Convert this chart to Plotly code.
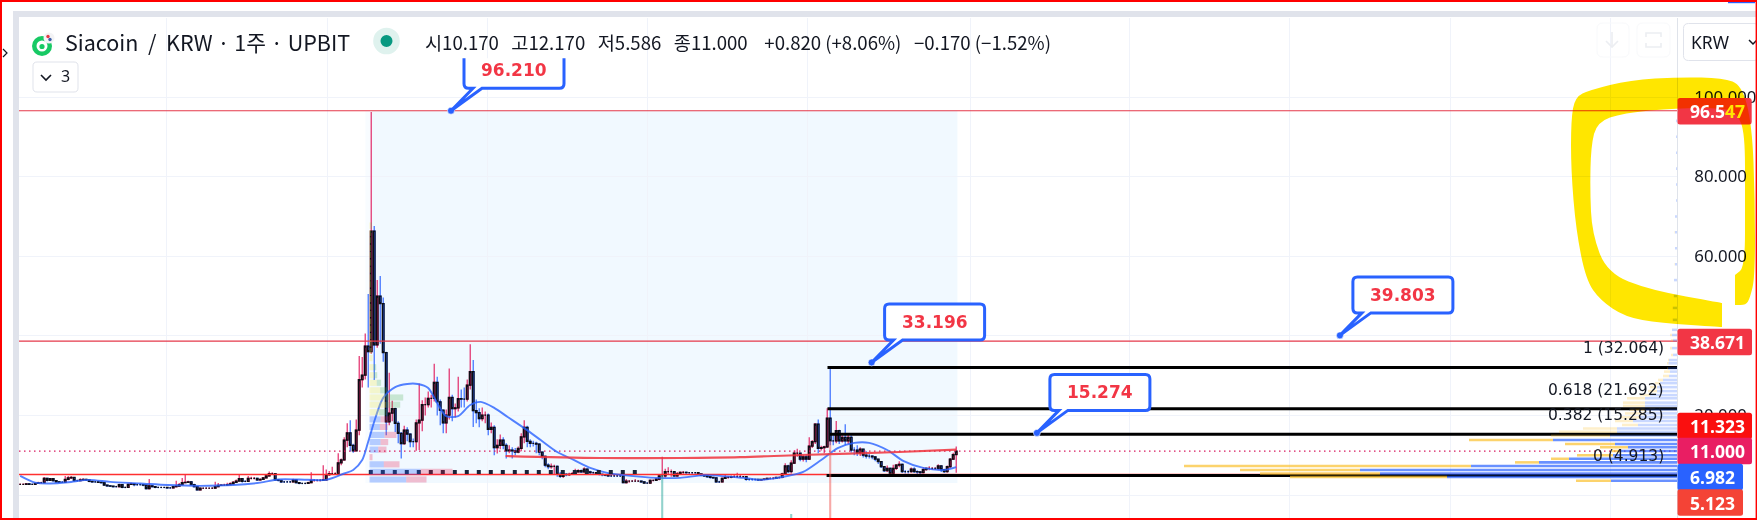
import plotly.graph_objects as go

CLOSE = [
2.7,2.7,2.8,2.7,2.7,2.9,3.1,3.1,4.2,3.7,
4.1,3.6,3.3,3.2,3.2,3.9,4.3,4.4,3.6,3.6,
3.8,3.9,3.8,3.4,3.3,3.3,3.2,3.1,2.5,2.3,
2.2,2.1,2.1,2.6,1.9,1.9,2.7,2.8,2.6,2.6,
2.6,2.5,1.6,2.3,2.1,1.9,1.9,1.9,1.9,1.8,
1.8,2.1,2.2,2.6,3.1,3.2,3.3,2.6,2.1,1.3,
1.7,1.7,1.7,1.7,1.7,2.1,2.4,2.5,2.5,2.6,
2.8,3.2,3.5,4.1,3.4,3.4,4.2,4.2,4.2,3.8,
3.9,4.3,4.8,5.4,5.4,3.8,3.7,3.3,3.3,3.3,
3.3,3.8,3.1,2.9,2.9,2.9,3.1,3.7,3.7,3.7,
3.7,3.8,5.1,5.4,5.4,5.4,8.1,8.8,13.8,15.6,
12.5,11.1,16.3,29.0,30.1,37.4,36.0,66.3,37.7,50.0,
48.1,35.8,18.4,20.6,21.7,18.0,15.5,12.9,16.3,15.3,
13.4,13.4,18.1,18.8,22.7,22.7,24.3,24.3,28.3,23.4,
21.3,18.1,20.1,24.5,21.7,21.9,24.2,24.1,24.1,27.6,
31.0,21.2,20.7,19.2,20.1,20.1,16.5,17.0,11.9,12.5,
13.8,12.5,11.1,11.3,11.1,10.8,11.7,14.6,17.0,13.5,
13.0,13.0,12.8,10.8,9.7,7.5,7.1,7.2,7.2,5.2,
4.7,5.2,5.1,5.2,5.4,5.8,6.1,5.8,6.5,5.8,
5.6,5.6,5.4,5.2,5.1,5.0,4.8,4.8,4.8,4.8,
4.8,3.1,3.5,3.5,3.5,3.5,3.5,3.3,3.0,3.0,
3.7,3.7,4.0,4.8,4.8,5.85,5.85,5.85,4.8,5.3,
5.7,5.7,5.6,5.6,5.6,5.6,5.3,5.0,4.8,4.6,
4.4,4.3,3.3,3.3,4.2,4.4,4.4,4.6,4.6,4.6,
4.6,4.6,3.9,3.9,3.9,3.9,3.8,3.9,4.0,4.2,
4.2,4.2,4.4,4.4,5.3,7.3,5.9,8.0,10.5,10.5,
9.0,9.6,9.0,12.3,13.4,17.8,11.7,11.9,12.1,19.3,
13.6,13.6,16.2,13.6,14.5,13.6,14.5,11.3,11.3,10.6,
11.5,10.0,9.8,9.8,9.6,9.0,8.4,7.1,6.1,6.7,
5.4,6.7,7.5,7.7,5.9,5.9,5.9,6.5,5.9,5.8,
5.6,6.4,6.7,6.7,6.7,6.7,7.3,6.4,5.9,7.1,
9.0,10.17,11.0]
HIGH = [
2.9,2.9,3.0,3.0,2.9,3.1,3.3,3.3,4.5,4.3,
4.3,4.2,3.7,3.4,3.5,4.8,4.8,4.8,4.5,3.9,
4.2,4.2,4.1,3.9,3.6,3.5,3.6,3.4,3.2,2.6,
2.4,2.3,2.3,2.8,2.7,2.1,2.9,3.1,3.0,2.8,
2.9,2.7,2.6,4.0,2.5,2.2,2.1,2.0,2.0,2.0,
2.0,2.3,3.6,3.0,4.3,5.2,3.6,3.4,2.8,2.2,
1.9,1.8,1.9,1.8,1.9,3.3,3.0,2.7,2.8,3.1,
3.2,3.5,3.9,5.2,4.2,3.7,4.8,4.6,4.5,4.3,
4.2,4.5,5.0,5.9,5.7,5.5,4.0,3.8,3.5,3.5,
3.5,4.1,3.9,3.2,3.1,3.1,3.3,5.7,4.0,3.9,
4.0,7.5,6.4,6.0,7.1,5.7,10.5,9.2,14.5,18.0,
18.8,12.9,19.0,34.9,34.7,40.6,50.5,96.21,67.6,54.0,
55.0,49.6,36.0,30.7,23.7,21.9,18.5,15.8,17.4,17.0,
15.5,14.2,19.0,28.0,23.8,24.5,26.0,25.2,33.0,29.7,
24.0,21.5,21.5,31.8,25.2,23.0,29.7,26.5,27.0,29.0,
37.9,33.9,24.0,21.8,22.0,21.0,20.5,18.2,17.5,14.0,
15.2,14.5,13.0,12.5,12.0,11.8,12.2,15.5,18.8,17.4,
14.0,13.6,13.4,13.0,10.9,9.9,8.0,7.9,7.6,7.4,
5.8,5.6,5.5,5.6,5.8,6.6,6.5,6.4,7.0,6.7,
6.1,5.9,5.8,5.5,5.4,5.3,5.1,5.0,5.0,5.0,
5.0,5.0,4.0,3.7,3.7,4.0,3.7,3.6,3.4,3.2,
3.9,3.9,4.2,5.0,9.6,6.6,7.0,6.4,6.0,5.8,
5.9,6.0,5.9,5.8,5.8,5.7,5.7,5.4,5.1,4.9,
4.7,4.5,4.4,3.6,4.4,5.2,4.8,4.9,5.0,5.6,
5.0,4.8,4.7,4.1,4.1,4.0,4.0,4.0,4.2,4.3,
4.4,4.5,4.6,4.6,5.6,8.0,7.6,8.7,11.2,11.6,
10.6,10.0,10.2,14.5,13.8,18.0,19.0,12.4,12.4,21.8,
32.2,15.0,18.6,16.4,15.0,17.8,15.5,15.0,12.0,12.5,
12.0,11.6,11.0,10.3,10.0,9.8,9.1,8.5,7.2,7.4,
6.9,7.6,7.8,8.5,7.9,6.3,6.2,6.9,7.0,6.2,
6.0,7.0,6.9,7.2,7.0,7.0,7.7,7.5,6.6,7.4,
9.3,10.6,12.17]
LOW = [
2.5,2.5,2.6,2.6,2.5,2.6,2.8,2.9,3.0,3.4,
3.5,3.3,3.1,3.0,3.0,3.1,3.7,4.0,3.3,3.4,
3.5,3.6,3.5,3.2,3.1,3.1,3.0,2.9,2.3,2.1,
2.0,1.9,1.9,1.9,1.7,1.7,1.8,2.5,2.2,2.3,
2.4,2.2,1.4,1.4,1.9,1.7,1.7,1.7,1.7,1.6,
1.6,1.7,1.9,2.1,2.5,3.0,3.0,2.4,1.9,1.1,
1.2,1.5,1.5,1.5,1.5,1.6,2.0,2.3,2.3,2.4,
2.5,2.7,3.1,3.4,3.1,3.2,3.3,3.9,3.9,3.5,
3.6,3.8,4.2,4.6,5.0,3.6,3.4,3.0,3.0,3.1,
3.1,3.2,2.9,2.7,2.7,2.7,2.8,3.0,3.3,3.4,
3.4,3.6,3.6,4.8,5.0,5.0,5.2,7.5,8.6,12.0,
10.9,10.6,11.0,15.0,27.0,29.0,27.0,35.5,28.9,37.0,
38.0,33.5,15.0,17.5,18.5,15.8,13.0,9.2,12.6,13.5,
12.0,12.0,11.1,11.3,16.0,20.0,22.0,22.0,23.5,20.0,
17.5,15.5,15.5,19.0,18.5,19.5,21.0,22.0,22.0,23.5,
26.5,17.1,18.0,17.0,18.5,18.0,15.0,15.5,10.0,10.4,
11.5,11.5,9.2,10.5,9.2,10.0,10.5,11.0,13.0,12.0,
12.0,12.2,10.5,10.0,9.0,7.0,6.5,6.6,5.0,4.6,
4.3,4.3,4.7,4.8,5.0,5.0,5.6,5.5,5.6,5.3,
5.2,5.2,5.0,4.9,4.7,4.7,4.5,4.5,4.5,4.5,
4.5,3.0,2.9,3.1,3.3,3.3,3.3,3.1,2.8,2.8,
2.8,3.4,3.5,3.7,4.4,4.4,5.3,4.6,4.5,4.5,
5.1,5.3,5.2,5.3,5.2,5.2,5.0,4.7,4.5,4.3,
4.1,4.1,3.1,3.0,3.2,4.0,4.1,4.2,4.3,4.3,
4.3,4.3,3.6,3.6,3.6,3.6,3.5,3.6,3.7,3.8,
3.9,3.9,4.0,4.1,4.2,5.0,5.5,5.4,7.8,9.6,
8.5,8.4,8.2,8.8,11.8,12.8,10.5,11.2,10.5,11.8,
12.5,12.5,13.0,12.8,13.2,12.5,12.8,10.7,10.0,9.8,
9.8,9.4,9.2,9.2,9.0,8.5,7.8,6.8,5.8,5.8,
5.2,5.0,6.3,7.0,5.5,5.4,5.4,5.6,5.5,5.3,
5.2,5.4,6.1,6.2,6.3,6.3,6.2,5.8,5.5,5.6,
6.8,8.8,5.586]

MA_X = [0,5,10,16,23,30,40,49,60,71,80,86,93,102,108,111,114,116,118.5,121,125,129,132.5,136,139,142,146,150,153.5,158,162.5,168,173.5,179,184.5,190,196,201,212.5,220,228,241,247,256,261,267,272.5,278,283,289,294.5,301,308,312]
MA_V = [4.8,3.1,2.9,3.2,3.8,3.3,2.9,2.5,2.3,2.5,3.1,3.9,3.9,3.8,5.4,6.3,8.8,13.4,19.6,24.4,27.1,27.9,27.9,26.9,23.1,19.8,19.8,22.6,23.4,21.9,19.6,16.8,13.8,10.8,8.8,6.8,5.5,5.0,4.3,4.3,5.0,4.3,3.8,4.8,5.8,8.8,11.8,13.1,13.1,11.3,8.5,6.8,6.3,7.0]
VWAP_X = [161.8,193.4,220,240,260,293,312]
VWAP_V = [9.8,9.3,9.3,9.5,10.05,10.8,11.4]

VOL_X = [214,257,270]
VOL_V = [43,4,77]

FIB_LEVEL = ["1 (32.064)","0.618 (21.692)","0.382 (15.285)","0 (4.913)"]
FIB_V = [32.064,21.692,15.285,4.913]
FIB_START = [269.1,269.1,269.9,268.8]

CALLOUT_TXT = ["96.210","33.196","39.803","15.274"]
CALLOUT_X = [143.6,283.8,439.9,338.9]
CALLOUT_V = [96.547,33.3,40.1,15.6]

# Right-hand volume profile: price row, buy length, sell length
VPR_ROW = [3.6,4.5,5.4,6.3,7.3,8.2,9.1,10.0,11.05,12.0,12.8,13.8,14.9,15.9,16.7,17.6,18.6,19.5,20.5,21.4,22.4,23.2,24.3,25.1,26.1,27.1,28.1,28.9,29.9,31.0,31.8,33.1,33.9,35.2,36.9,38.9,40.2,41.5,44,47,50,54,58,62,66,70,74,78,82,86,90,94]
VPR_BUY = [66,230,297,317,206,138,108,64,57,49,62,124,67,60,60,39,44,37,32,32,32,32,32,27,20,20,17,14,8,7,9,8.5,8,4,5,4,5,5,4,4,3,3,2,2,2,2,1,1,1,1,1,1]
VPR_SELL = [35,157,120,120,287,24,18,36,8,28,50,84,59,58,34,16,18,20,20,15,22,22,18,10,9,7,5,5,6,6,1,1.5,1,2,2,2,2,0,1,1,1,0,0.5,0,0.5,0,0,0,0,0,0,0]

# Left fixed-range profile: price row, first part, second part
VPL_UP_ROW = [67.7,65.8,64.0,62.1,60.3,58.4,56.6,54.7,52.9,51.0,49.2,47.3,45.5,43.6,41.8,39.9,38.1,36.2,34.4,32.1,30.1,28.2,26.3,24.5,22.7,20.8]
VPL_UP_A = [1,1.3,1.2,1.3,1.2,1.3,1.2,1.3,1.3,1.2,1.4,1.3,1.4,1.5,1.5,1.6,1.8,2,3,4,4.7,7.3,10.7,15.7,16.7,9.7]
VPL_UP_B = [1.5,0.5,0.6,0.5,0.5,0.6,0.5,0.6,0.5,0.6,0.5,0.6,0.6,0.5,0.6,0.5,0.5,0.5,0,2.7,3,4.3,6.7,18,14,7.7]
VPL_DN_ROW = [19.0,17.1,15.1,13.3,11.4,9.5,7.7,5.8,3.9]
VPL_DN_A = [11,10.3,15,11,8.7,0,14.3,51,36.7]
VPL_DN_B = [8.3,8,12,7.7,8.3,3,15.7,32,20.3]

Y_TICKS = [100,80,60,40,20,0]
Y_TEXT = ["100.000","80.000","60.000","","20.000",""]
GRID_X = [48.9,102.4,155.8,209.1,262.5,316.6,369.8,423.2,476.6,530.1]

PRICE_TAGS = ["96.5<span style='color:#ffe600'>47</span>","38.671","11.323","11.000","6.982","5.123"]

PL, PR, PT, PB = 19, 1677, 18, 518
def X(p): return (p - PL) / (PR - PL)
def Y(p): return (PB - p) / (PB - PT)
def rect(x0, y0, x1, y1, fill, line=None, lw=0, layer="above"):
    return dict(type="rect", xref="paper", yref="paper", x0=X(x0), x1=X(x1), y0=Y(y0), y1=Y(y1),
                fillcolor=fill, line=dict(color=line or "rgba(0,0,0,0)", width=lw), layer=layer)
def poly(pts, fill="rgba(0,0,0,0)", line=None, lw=0, close=True, layer="above"):
    d = "M" + " L".join(f"{X(a):.5f},{Y(b):.5f}" for a, b in pts) + (" Z" if close else "")
    return dict(type="path", xref="paper", yref="paper", path=d, fillcolor=fill,
                line=dict(color=line or "rgba(0,0,0,0)", width=lw), layer=layer)
def smooth(pts, fill):
    n = len(pts)
    mid = lambda a, b: ((a[0] + b[0]) / 2, (a[1] + b[1]) / 2)
    m0 = mid(pts[0], pts[1])
    d = f"M{X(m0[0]):.5f},{Y(m0[1]):.5f}"
    for i in range(1, n + 1):
        c = pts[i % n]
        m = mid(c, pts[(i + 1) % n])
        d += f" Q{X(c[0]):.5f},{Y(c[1]):.5f} {X(m[0]):.5f},{Y(m[1]):.5f}"
    return dict(type="path", xref="paper", yref="paper", path=d + " Z", fillcolor=fill, line=dict(width=0), layer="above")
def rrect(x0, y0, x1, y1, r, fill, line=None, lw=0):
    a, b, c, e = X(x0), X(x1), Y(y0), Y(y1)
    rx, ry = r / (PR - PL), r / (PB - PT)
    d = (f"M{a+rx:.5f},{c:.5f} L{b-rx:.5f},{c:.5f} Q{b:.5f},{c:.5f} {b:.5f},{c-ry:.5f} L{b:.5f},{e+ry:.5f} "
         f"Q{b:.5f},{e:.5f} {b-rx:.5f},{e:.5f} L{a+rx:.5f},{e:.5f} Q{a:.5f},{e:.5f} {a:.5f},{e+ry:.5f} "
         f"L{a:.5f},{c-ry:.5f} Q{a:.5f},{c:.5f} {a+rx:.5f},{c:.5f} Z")
    return dict(type="path", xref="paper", yref="paper", path=d, fillcolor=fill,
                line=dict(color=line or "rgba(0,0,0,0)", width=lw), layer="above")
def circ(cx, cy, r, fill):
    return dict(type="circle", xref="paper", yref="paper", x0=X(cx - r), x1=X(cx + r), y0=Y(cy + r), y1=Y(cy - r),
                fillcolor=fill, line=dict(width=0), layer="above")

IDX = list(range(len(CLOSE)))
OPEN = [CLOSE[0]] + CLOSE[:-1]
BODY_HI = [max(a, b) for a, b in zip(OPEN, CLOSE)]
BODY_LO = [min(a, b) for a, b in zip(OPEN, CLOSE)]
X0PX = 20.2
XMIN = (PL - X0PX) / 3
XMAX = (PR - X0PX) / 3
YMIN = (495 - PB) / 3.98
YMAX = (495 - PT) / 3.98

UP, DN = "#e0195c", "#2962ff"
fig = go.Figure()

HL = [(96.547, "#e5394a", 1.2, "solid"), (38.671, "#e5394a", 1.2, "solid"), (5.123, "#ff3030", 1.5, "solid"), (11.0, "#d81b60", 1.3, "1.5px,3.5px")]
for v, c, w, d in HL:
    fig.add_trace(go.Scatter(x=[XMIN, XMAX], y=[v, v], mode="lines", line=dict(color=c, width=w, dash=d), hoverinfo="skip"))

fig.add_trace(go.Candlestick(x=IDX, open=OPEN, high=HIGH, low=LOW, close=CLOSE, whiskerwidth=0,
    increasing=dict(line=dict(color=UP, width=1.1), fillcolor=UP),
    decreasing=dict(line=dict(color=DN, width=1.1), fillcolor=DN), hoverinfo="skip"))
fig.add_trace(go.Candlestick(x=IDX, open=OPEN, high=BODY_HI, low=BODY_LO, close=CLOSE, whiskerwidth=0,
    increasing=dict(line=dict(color="#0b0d14", width=1.25), fillcolor=UP),
    decreasing=dict(line=dict(color="#0b0d14", width=1.25), fillcolor=DN), hoverinfo="skip"))

fig.add_trace(go.Scatter(x=MA_X, y=MA_V, mode="lines", line=dict(color="rgba(41,98,255,0.8)", width=1.9, shape="spline", smoothing=0.8), hoverinfo="skip"))
fig.add_trace(go.Scatter(x=VWAP_X, y=VWAP_V, mode="lines", line=dict(color="rgba(240,50,60,0.85)", width=2.2, shape="spline"), hoverinfo="skip"))
fig.add_trace(go.Scatter(x=[116.2, 208.2], y=[5.8, 5.8], mode="lines", line=dict(color="#1a2338", width=4, dash="4px,8px"), hoverinfo="skip"))

for v, s in zip(FIB_V, FIB_START):
    fig.add_trace(go.Scatter(x=[s, XMAX], y=[v, v], mode="lines", line=dict(color="#000000", width=3), hoverinfo="skip"))

# volume bars on their own overlaid scale
fig.add_trace(go.Bar(x=VOL_X, y=VOL_V, width=0.7, yaxis="y2", marker=dict(color=["rgba(38,166,154,0.5)", "rgba(38,166,154,0.5)", "rgba(239,83,80,0.5)"], line_width=0), hoverinfo="skip"))

# right profile (grows from the axis, leftwards)
OP = [0.7 if r < 14.4 else 0.25 for r in VPR_ROW]
fig.add_trace(go.Bar(y=VPR_ROW, x=VPR_BUY, orientation="h", width=0.64, xaxis="x2", marker=dict(color="#2962ff", opacity=OP, line_width=0), hoverinfo="skip"))
fig.add_trace(go.Bar(y=VPR_ROW, x=VPR_SELL, base=VPR_BUY, orientation="h", width=0.64, xaxis="x2", marker=dict(color="#fbc02d", opacity=OP, line_width=0), hoverinfo="skip"))

# left profile
fig.add_trace(go.Bar(y=VPL_UP_ROW, x=VPL_UP_A, orientation="h", width=1.55, xaxis="x3", marker=dict(color="rgba(245,235,90,0.30)", line_width=0), hoverinfo="skip"))
fig.add_trace(go.Bar(y=VPL_UP_ROW, x=VPL_UP_B, base=VPL_UP_A, orientation="h", width=1.55, xaxis="x3", marker=dict(color="rgba(76,175,80,0.25)", line_width=0), hoverinfo="skip"))
fig.add_trace(go.Bar(y=VPL_DN_ROW, x=VPL_DN_A, orientation="h", width=1.55, xaxis="x3", marker=dict(color="rgba(41,98,255,0.30)", line_width=0), hoverinfo="skip"))
fig.add_trace(go.Bar(y=VPL_DN_ROW, x=VPL_DN_B, base=VPL_DN_A, orientation="h", width=1.55, xaxis="x3", marker=dict(color="rgba(233,30,80,0.27)", line_width=0), hoverinfo="skip"))

# callout anchor dots
fig.add_trace(go.Scatter(x=CALLOUT_X, y=CALLOUT_V, mode="markers", marker=dict(color="#2962ff", size=7, line=dict(color="white", width=0.6)), hoverinfo="skip"))

shapes = []
# measure rectangle
shapes.append(dict(type="rect", xref="x", yref="y", x0=115.1, x1=312.4, y0=3.0, y1=96.547, fillcolor="rgba(33,170,243,0.03)", line_width=0, layer="below"))
shapes.append(dict(type="rect", xref="x", yref="y", x0=116.8, x1=312.4, y0=3.0, y1=96.547, fillcolor="rgba(33,170,243,0.03)", line_width=0, layer="below"))

# callouts
L, W, B, H, R = 13, 100, 22.5, 36, 4.5
for i, (cx, cv) in enumerate(zip(CALLOUT_X, CALLOUT_V)):
    if i == 0:
        T_ = B + 30
        path = (f"M{L},{T_} L{L},{B+R} Q{L},{B} {L+R},{B} L22,{B} L0,0 L31,{B} L{L+W-R},{B} "
                f"Q{L+W},{B} {L+W},{B+R} L{L+W},{T_}")
    else:
        T_ = B + H
        path = (f"M{L+R},{T_} Q{L},{T_} {L},{T_-R} L{L},{B+R} Q{L},{B} {L+R},{B} L22,{B} L0,0 L31,{B} L{L+W-R},{B} "
                f"Q{L+W},{B} {L+W},{B+R} L{L+W},{T_-R} Q{L+W},{T_} {L+W-R},{T_} Z")
    shapes.append(dict(type="path", xref="x", yref="y", xsizemode="pixel", ysizemode="pixel", xanchor=cx, yanchor=cv,
                       path=path, fillcolor="white", line=dict(color="#2962ff", width=3), layer="above"))

# axis price tags
TAG_Y = [111.3, 342, 426, 451, 477, 502.5]
TAG_R = [1751.7, 1752, 1752, 1752, 1743, 1743]
TAG_C = ["#f23645", "#f23645", "#fa0f0f", "#e91e63", "#2962ff", "#f44336"]
for y, r, c in zip(TAG_Y, TAG_R, TAG_C):
    shapes.append(rrect(1677.5, y - 13.2, r, y + 13.2, 2.5, c))

# page furniture
shapes += [
    rect(13, 11, 1757, 17, "#e0e3eb"), rect(13, 11, 19, 518, "#e0e3eb"),
    rrect(33, 62, 78, 92, 4, "white", "#e0e3eb", 1),
    poly([(41, 75), (46, 80), (51, 75)], line="#131722", lw=1.6, close=False),
    poly([(3, 49), (7, 53), (3, 57)], line="#131722", lw=1.2, close=False),
    circ(42, 46, 10, "#17c964"), circ(42, 46, 5.5, "white"), circ(42, 46.5, 2.6, "#17c964"),
    circ(49, 38, 5.5, "#f3f3f5"), circ(48, 36.5, 1.7, "#e53945"), circ(50, 39.5, 1.7, "#3f5fa8"),
    circ(386.5, 41, 13.3, "#dff2ee"), circ(386.5, 41, 6, "#089981"),
    rrect(1597, 23, 1629, 57, 6, "rgba(255,255,255,0)", "#f8f9fb", 1),
    rrect(1637, 23, 1670, 57, 6, "rgba(255,255,255,0)", "#f8f9fb", 1),
    poly([(1612, 32), (1612, 47)], line="#eceef2", lw=1.6, close=False),
    poly([(1606, 41), (1612, 47), (1618, 41)], line="#eceef2", lw=1.6, close=False),
    poly([(1646, 37), (1646, 33), (1661, 33), (1661, 37)], line="#eceef2", lw=1.6, close=False),
    poly([(1646, 43), (1646, 47), (1661, 47), (1661, 43)], line="#eceef2", lw=1.6, close=False),
    rrect(1683.5, 23.5, 1759, 60.5, 5, "white", "#e0e3eb", 1),
    poly([(1749, 40), (1753, 44), (1757, 40)], line="#131722", lw=1.5, close=False),
]

# hand-drawn highlighter stroke
HIGHLIGHT = [(1575,97),(1590,90),(1630,80),(1680,77),(1723,78),(1742,85),(1752,125),(1755,200),(1755,277),(1750,298),(1746,305),
             (1735,305),(1735,305),(1735,275),(1735,275),(1745,267),(1745,200),(1745,133),(1737,113),(1723,108),(1677,108),(1623,113),
             (1597,122),(1591,146),(1590,190),(1592,233),(1607,273),(1650,290),(1722,303),(1722,303),(1722,327),(1722,327),
             (1660,323),(1625,317),(1600,300),(1586,280),(1576,230),(1571,170),(1571,120)]
shapes.append(smooth(HIGHLIGHT, "#ffe600"))

# outer red frame
shapes += [rect(0, 0, 1757, 2, "#ff0000"), rect(0, 518, 1757, 520, "#ff0000"), rect(0, 0, 2, 520, "#ff0000"), rect(1755.6, 0, 1757, 520, "#ff0000"), rect(1728, 2, 1755, 3.2, "#2962ff")]

ann = []
def T(x, y, s, size, color="#131722", fam="Noto Sans, Noto Sans CJK KR", anchor="left", bold=False):
    ann.append(dict(xref="paper", yref="paper", x=X(x), y=Y(y), text=f"<b>{s}</b>" if bold else s, showarrow=False, xanchor=anchor, yanchor="middle",
                    font=dict(size=size, color=color, family=fam), align=anchor))
T(63, 41.5, "Siacoin  /  KRW · 1주 · UPBIT", 21.5, fam="Noto Sans CJK KR")
T(423, 41.5, "시10.170   고12.170   저5.586   종11.000    +0.820 (+8.06%)   −0.170 (−1.52%)", 18.6, fam="Noto Sans CJK KR")
T(59, 76, "3", 16)
T(1689, 41.5, "KRW", 17.5, fam="Noto Sans")
for s, y in zip(PRICE_TAGS, TAG_Y):
    T(1688, y, s, 17.5, color="white", bold=True)
for s, v in zip(FIB_LEVEL, FIB_V):
    ann.append(dict(xref="paper", yref="y", x=X(1666), y=v, yshift=19, text=s, showarrow=False, xanchor="right", yanchor="middle",
                    font=dict(size=15.5, color="#131722", family="DejaVu Sans")))
for s, cx, cv in zip(CALLOUT_TXT, CALLOUT_X, CALLOUT_V):
    ann.append(dict(xref="x", yref="y", x=cx, y=cv, xshift=L + W / 2, yshift=B + 18, text=f"<b>{s}</b>", showarrow=False, xanchor="center", yanchor="middle",
                    font=dict(size=17, color="#f23645", family="DejaVu Sans")))

GRID = "#f0f3fa"
fig.update_layout(
    width=1757, height=520, showlegend=False, barmode="overlay", boxgap=0.22,
    paper_bgcolor="white", plot_bgcolor="white", hovermode=False, dragmode=False,
    margin=dict(l=PL, r=1757 - PR, t=PT, b=520 - PB, pad=0, autoexpand=False),
    xaxis=dict(range=[XMIN, XMAX], tickmode="array", tickvals=GRID_X, showticklabels=False, ticks="", showgrid=True, gridcolor=GRID, gridwidth=1,
               zeroline=False, showline=False, rangeslider=dict(visible=False), fixedrange=True, automargin=False),
    yaxis=dict(range=[YMIN, YMAX], side="right", tickmode="array", tickvals=Y_TICKS, ticktext=Y_TEXT, ticks="outside", ticklen=13, tickcolor="rgba(0,0,0,0)",
               tickfont=dict(size=16.8, color="#131722", family="Noto Sans"), showgrid=True, gridcolor=GRID, gridwidth=1, zeroline=False,
               showline=True, linecolor="#dfe3ea", linewidth=1, fixedrange=True, automargin=False),
    yaxis2=dict(range=[0, 500], overlaying="y", visible=False, fixedrange=True),
    xaxis2=dict(range=[PR - PL, 0], overlaying="x", visible=False, fixedrange=True),
    xaxis3=dict(range=[-(369.5 - PL), PR - 369.5], overlaying="x", visible=False, fixedrange=True),
    shapes=shapes, annotations=ann,
)
POST = """
document.body.style.margin='0';document.body.style.overflow='hidden';
document.querySelectorAll('.shapelayer path').forEach(function(p){
  if((p.style.fill||'').indexOf('255, 230, 0')>=0){p.style.mixBlendMode='multiply';}
});
"""
fig.write_html("out.html", post_script=POST, config=dict(displayModeBar=False, staticPlot=True))
